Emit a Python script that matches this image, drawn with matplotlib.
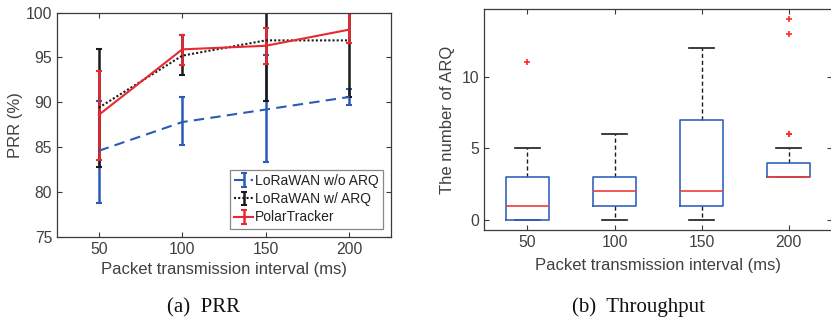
import numpy as np
import matplotlib
matplotlib.use("Agg")
import matplotlib.pyplot as plt

# ---- data (a) PRR ----
intervals = [50, 100, 150, 200]

noarq_mean = [84.6, 87.8, 89.2, 90.6]
noarq_low = [78.8, 85.2, 83.3, 89.7]
noarq_high = [90.2, 90.6, 95.3, 91.5]

arq_mean = [89.4, 95.2, 96.9, 96.9]
arq_low = [82.8, 93.0, 90.1, 90.6]
arq_high = [95.9, 97.5, 101.0, 101.0]

polar_mean = [88.6, 95.9, 96.3, 98.1]
polar_low = [83.6, 94.2, 94.3, 96.6]
polar_high = [93.5, 97.5, 98.3, 99.9]

# ---- data (b) number of ARQ (box stats) ----
box_labels = ["50", "100", "150", "200"]
box_q1 = [0, 1, 1, 3]
box_med = [1, 2, 2, 3]
box_q3 = [3, 3, 7, 4]
box_whislo = [0, 0, 0, 3]
box_whishi = [5, 6, 12, 5]
box_fliers = [[11], [], [], [6, 6, 13, 14]]

TXT = "#404040"
plt.rcParams['font.family'] = ['Liberation Sans', 'DejaVu Sans']
plt.rcParams['font.size'] = 10


def style_axes(ax):
	for s in ax.spines.values():
		s.set_color("#3a3a3a")
		s.set_linewidth(0.9)
	ax.tick_params(direction='in', top=True, right=True, colors="#3a3a3a",
				   labelcolor=TXT, labelsize=11.3, length=3.5)


fig = plt.figure(figsize=(8.31, 3.22), dpi=100)

# ---------- (a) ----------
ax1 = fig.add_axes([0.0686, 0.264, 0.402, 0.697])
series = [
	(noarq_mean, noarq_low, noarq_high, "#2b5bb8", (0, (5, 3)), "LoRaWAN w/o ARQ"),
	(arq_mean, arq_low, arq_high, "#1a1a1a", (0, (1, 1)), "LoRaWAN w/ ARQ"),
	(polar_mean, polar_low, polar_high, "#e8292f", "-", "PolarTracker"),
]
for mean, low, high, col, ls, lab in series:
	mean = np.array(mean)
	yerr = [mean - np.array(low), np.array(high) - mean]
	eb = ax1.errorbar(intervals, mean, yerr=yerr, color=col, linewidth=1.5,
					  elinewidth=1.8, capsize=2.5, capthick=1.5, label=lab)
	eb[-1][0].set_linestyle("-")
	eb[0].set_linestyle(ls)

ax1.set_xlim(25, 225)
ax1.set_ylim(75, 100)
ax1.set_xticks(intervals)
ax1.set_yticks([75, 80, 85, 90, 95, 100])
ax1.set_xlabel("Packet transmission interval (ms)", color=TXT, fontsize=12, labelpad=4)
ax1.set_ylabel("PRR (%)", color=TXT, fontsize=12, labelpad=2)
style_axes(ax1)
leg = ax1.legend(loc="lower right", fontsize=10, frameon=True, fancybox=False,
				 handlelength=1.4, handletextpad=0.1, borderpad=0.3,
				 labelspacing=0.3, borderaxespad=0.6)
leg.get_frame().set_edgecolor("#6a6a6a")
leg.get_frame().set_linewidth(0.9)
for t in leg.get_texts():
	t.set_color("#222222")

# ---------- (b) ----------
ax2 = fig.add_axes([0.5824, 0.2857, 0.419, 0.685])
stats = []
for i in range(len(box_labels)):
	stats.append(dict(q1=box_q1[i], med=box_med[i], q3=box_q3[i],
					  whislo=box_whislo[i], whishi=box_whishi[i],
					  fliers=box_fliers[i], label=box_labels[i]))
ax2.bxp(stats, widths=0.5, showfliers=True,
		boxprops=dict(color="#3463bd", linewidth=1.2, zorder=4),
		medianprops=dict(color="#ee3b3b", linewidth=1.2, zorder=5),
		whiskerprops=dict(color="#1a1a1a", linestyle=(0, (3, 2)), linewidth=1.0, zorder=2),
		capprops=dict(color="#1a1a1a", linewidth=1.2, zorder=2),
		capwidths=0.28,
		flierprops=dict(marker="+", markeredgecolor="#ff2a2a", markersize=4,
						markeredgewidth=1.2, linestyle="none"))
ax2.set_xlim(0.5, 4.5)
ax2.set_ylim(-0.7, 14.7)
ax2.set_yticks([0, 5, 10])
ax2.set_xlabel("Packet transmission interval (ms)", color=TXT, fontsize=12, labelpad=6)
ax2.set_ylabel("The number of ARQ", color=TXT, fontsize=12, labelpad=5)
style_axes(ax2)

# captions
fig.text(0.245, 0.045, "(a)  PRR", ha="center", va="center",
		 family=["Liberation Serif"], fontsize=15, color="#111111")
fig.text(0.768, 0.045, "(b)  Throughput", ha="center", va="center",
		 family=["Liberation Serif"], fontsize=15, color="#111111")

fig.savefig("out.png", dpi=100)
